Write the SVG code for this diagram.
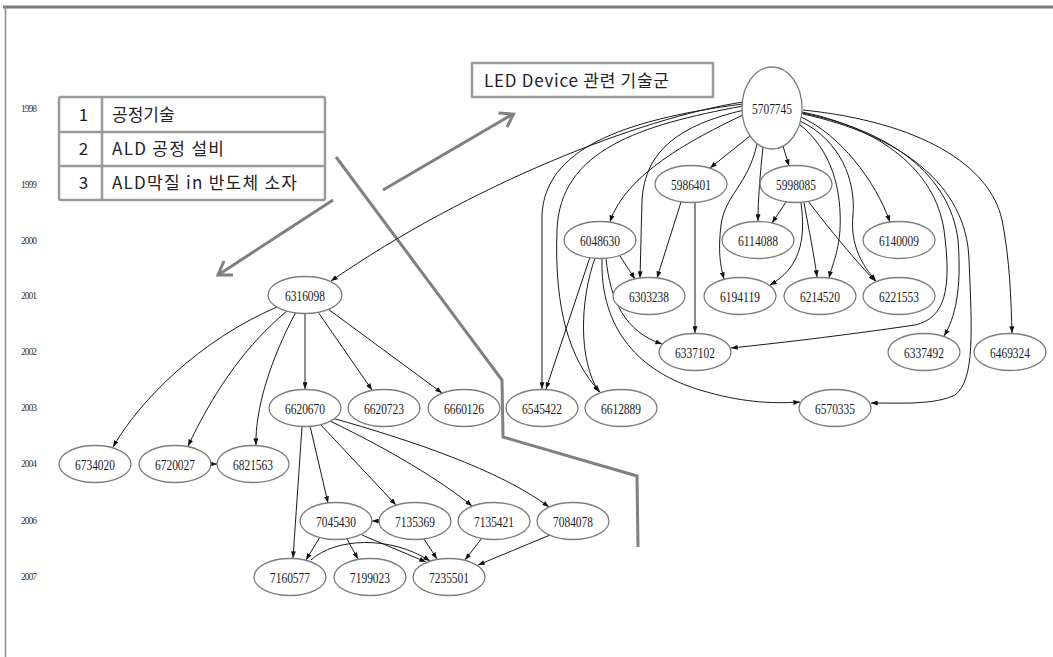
<svg xmlns="http://www.w3.org/2000/svg" width="1053" height="657" viewBox="0 0 1053 657">
<style>
.n ellipse{fill:#fff;stroke:#7d7d7d;stroke-width:1.3}
.n text{font-family:"Liberation Serif",serif;font-size:15.5px;fill:#1a1a1a;text-anchor:middle}
.yr{font-family:"Liberation Serif",serif;font-size:9.5px;fill:#333}
.e path{fill:none;stroke:#1a1a1a;stroke-width:1}
.g{fill:none;stroke:#808080;stroke-width:3}
.box{fill:#fff;stroke:#9a9a9a;stroke-width:2.5}
.k{font-family:"Noto Sans CJK KR","Noto Sans",sans-serif;font-size:17px;fill:#222}
</style>
<defs>
<marker id="a" viewBox="0 0 8 6" refX="8" refY="3" markerWidth="7" markerHeight="5" markerUnits="userSpaceOnUse" orient="auto">
<path d="M0,0 L8,3 L0,6 z" fill="#111"/>
</marker>
</defs>
<rect width="1053" height="657" fill="#fff"/>
<g id="frame">
<path d="M3 7 H1053" stroke="#7a7a7a" stroke-width="3" fill="none"/>
<path d="M5.5 7 V657" stroke="#8a8a8a" stroke-width="1.5" fill="none"/>
</g>
<g id="years">
<text class="yr" x="21" y="112" textLength="16">1998</text>
<text class="yr" x="21" y="188" textLength="16">1999</text>
<text class="yr" x="21" y="244" textLength="16">2000</text>
<text class="yr" x="21" y="299" textLength="16">2001</text>
<text class="yr" x="21" y="355" textLength="16">2002</text>
<text class="yr" x="21" y="411" textLength="16">2003</text>
<text class="yr" x="21" y="467" textLength="16">2004</text>
<text class="yr" x="21" y="524" textLength="16">2006</text>
<text class="yr" x="21" y="580" textLength="16">2007</text>
</g>
<g id="annotations">
<path class="g" d="M336 157 L502 380 L503 437 L637 476 L638 547"/>
<path class="g" d="M383 190 L513 114"/>
<path class="g" d="M498.5 113 L513.5 114 L507 127"/>
<path class="g" d="M333 200 L218 275"/>
<path class="g" d="M233 275 L218 275 L224 261"/>
</g>
<g id="legend">
<rect class="box" x="59" y="97" width="266" height="103" rx="2"/>
<path d="M59 132 H325 M59 166 H325 M102 97 V200" stroke="#9a9a9a" stroke-width="2.5" fill="none"/>
<text class="k" x="83.5" y="121" text-anchor="middle">1</text>
<text class="k" x="83.5" y="155" text-anchor="middle">2</text>
<text class="k" x="83.5" y="189" text-anchor="middle">3</text>
<text class="k" x="112" y="121">공정기술</text>
<text class="k" x="112" y="155" textLength="112">ALD 공정 설비</text>
<text class="k" x="112" y="189" textLength="185">ALD막질 in 반도체 소자</text>
</g>
<g id="led-label">
<rect class="box" x="472" y="63" width="241" height="34"/>
<text class="k" x="484" y="87" textLength="185">LED Device 관련 기술군</text>
</g>
<g id="connectors" class="e">
<path marker-end="url(#a)" d="M743 102 C640 118 470 185 331 281"/>
<path marker-end="url(#a)" d="M743 104 C620 120 545 150 542 215 L542 389"/>
<path marker-end="url(#a)" d="M743 106 C640 125 560 150 557 230 C554 310 570 360 600 392"/>
<path marker-end="url(#a)" d="M744 110 C680 125 645 150 642 200 L640 278"/>
<path marker-end="url(#a)" d="M745 114 C690 140 625 175 610 222"/>
<path marker-end="url(#a)" d="M750 136 L710 168"/>
<path marker-end="url(#a)" d="M763 147 C760 175 758 200 758 221"/>
<path marker-end="url(#a)" d="M757 144 C748 185 725 195 721 225 C718 250 720 265 724 279"/>
<path marker-end="url(#a)" d="M783 146 L789 166"/>
<path marker-end="url(#a)" d="M799 124 C832 150 842 190 840 230 C838 255 832 265 829 278"/>
<path marker-end="url(#a)" d="M800 121 C840 140 856 180 853 215 C850 245 862 265 876 281"/>
<path marker-end="url(#a)" d="M801 117 C840 135 875 180 890 222"/>
<path marker-end="url(#a)" d="M802 112 C880 128 935 170 944 230 C952 290 945 318 915 325 C840 336 770 344 731 348"/>
<path marker-end="url(#a)" d="M802 113 C890 130 950 175 958 240 C962 290 955 318 944 336"/>
<path marker-end="url(#a)" d="M803 114 C900 135 967 185 969 260 C972 330 975 380 955 395 C935 405 900 403 871 403"/>
<path marker-end="url(#a)" d="M803 110 C920 122 990 165 1002 220 C1010 260 1011 300 1012 333"/>
<path marker-end="url(#a)" d="M681 202 L657 278"/>
<path marker-end="url(#a)" d="M695 203 L695 333"/>
<path marker-end="url(#a)" d="M786 202 L772 223"/>
<path marker-end="url(#a)" d="M801 203 C806 240 800 268 770 285"/>
<path marker-end="url(#a)" d="M804 203 C809 230 814 255 817 277"/>
<path marker-end="url(#a)" d="M808 201 C830 230 855 260 875 281"/>
<path marker-end="url(#a)" d="M620 256 L635 279"/>
<path marker-end="url(#a)" d="M606 258 C610 300 625 332 662 344"/>
<path marker-end="url(#a)" d="M602 259 C600 330 640 372 700 390 C740 402 770 404 800 402"/>
<path marker-end="url(#a)" d="M590 257 L546 389"/>
<path marker-end="url(#a)" d="M595 258 C580 300 578 360 599 392"/>
<path marker-end="url(#a)" d="M277 307 C200 340 140 400 113 447"/>
<path marker-end="url(#a)" d="M287 311 C240 350 210 400 188 446"/>
<path marker-end="url(#a)" d="M296 312 C270 360 255 410 256 445"/>
<path marker-end="url(#a)" d="M305 313 L305 389"/>
<path marker-end="url(#a)" d="M318 312 L372 390"/>
<path marker-end="url(#a)" d="M328 309 L442 393"/>
<path marker-end="url(#a)" d="M209 464 L217 464"/>
<path marker-end="url(#a)" d="M302 427 L293 558"/>
<path marker-end="url(#a)" d="M310 426 L328 503"/>
<path marker-end="url(#a)" d="M320 424 L396 505"/>
<path marker-end="url(#a)" d="M330 421 C390 450 440 480 472 506"/>
<path marker-end="url(#a)" d="M332 418 C410 440 500 470 549 507"/>
<path marker-end="url(#a)" d="M381 521 L372 521"/>
<path marker-end="url(#a)" d="M320 537 L306 560"/>
<path marker-end="url(#a)" d="M347 539 L358 559"/>
<path marker-end="url(#a)" d="M362 535 L426 562"/>
<path marker-end="url(#a)" d="M311 560 C335 538 390 535 430 561"/>
<path marker-end="url(#a)" d="M424 539 L437 559"/>
<path marker-end="url(#a)" d="M482 538 L465 560"/>
<path marker-end="url(#a)" d="M550 535 L478 565"/>
</g>
<g id="n5707745" class="n"><ellipse cx="772" cy="108" rx="30" ry="41"/><text x="772" y="113.5" textLength="40" lengthAdjust="spacingAndGlyphs">5707745</text></g>
<g id="n5986401" class="n"><ellipse cx="691" cy="184" rx="36" ry="18.5"/><text x="691" y="189.5" textLength="40" lengthAdjust="spacingAndGlyphs">5986401</text></g>
<g id="n5998085" class="n"><ellipse cx="796" cy="184" rx="36" ry="18.5"/><text x="796" y="189.5" textLength="40" lengthAdjust="spacingAndGlyphs">5998085</text></g>
<g id="n6048630" class="n"><ellipse cx="600" cy="240" rx="36" ry="18.5"/><text x="600" y="245.5" textLength="40" lengthAdjust="spacingAndGlyphs">6048630</text></g>
<g id="n6114088" class="n"><ellipse cx="758" cy="240" rx="36" ry="18.5"/><text x="758" y="245.5" textLength="40" lengthAdjust="spacingAndGlyphs">6114088</text></g>
<g id="n6140009" class="n"><ellipse cx="899" cy="240" rx="36" ry="18.5"/><text x="899" y="245.5" textLength="40" lengthAdjust="spacingAndGlyphs">6140009</text></g>
<g id="n6316098" class="n"><ellipse cx="305" cy="295" rx="37" ry="18.5"/><text x="305" y="300.5" textLength="40" lengthAdjust="spacingAndGlyphs">6316098</text></g>
<g id="n6303238" class="n"><ellipse cx="649" cy="296" rx="36" ry="18.5"/><text x="649" y="301.5" textLength="40" lengthAdjust="spacingAndGlyphs">6303238</text></g>
<g id="n6194119" class="n"><ellipse cx="740" cy="296" rx="36" ry="18.5"/><text x="740" y="301.5" textLength="40" lengthAdjust="spacingAndGlyphs">6194119</text></g>
<g id="n6214520" class="n"><ellipse cx="820" cy="296" rx="36" ry="18.5"/><text x="820" y="301.5" textLength="40" lengthAdjust="spacingAndGlyphs">6214520</text></g>
<g id="n6221553" class="n"><ellipse cx="899" cy="296" rx="36" ry="18.5"/><text x="899" y="301.5" textLength="40" lengthAdjust="spacingAndGlyphs">6221553</text></g>
<g id="n6337102" class="n"><ellipse cx="695" cy="352" rx="36" ry="18.5"/><text x="695" y="357.5" textLength="40" lengthAdjust="spacingAndGlyphs">6337102</text></g>
<g id="n6337492" class="n"><ellipse cx="924" cy="352" rx="36" ry="18.5"/><text x="924" y="357.5" textLength="40" lengthAdjust="spacingAndGlyphs">6337492</text></g>
<g id="n6469324" class="n"><ellipse cx="1010" cy="352" rx="36" ry="18.5"/><text x="1010" y="357.5" textLength="40" lengthAdjust="spacingAndGlyphs">6469324</text></g>
<g id="n6620670" class="n"><ellipse cx="305" cy="408" rx="36" ry="18.5"/><text x="305" y="413.5" textLength="40" lengthAdjust="spacingAndGlyphs">6620670</text></g>
<g id="n6620723" class="n"><ellipse cx="384" cy="408" rx="36" ry="18.5"/><text x="384" y="413.5" textLength="40" lengthAdjust="spacingAndGlyphs">6620723</text></g>
<g id="n6660126" class="n"><ellipse cx="464" cy="408" rx="36" ry="18.5"/><text x="464" y="413.5" textLength="40" lengthAdjust="spacingAndGlyphs">6660126</text></g>
<g id="n6545422" class="n"><ellipse cx="542" cy="408" rx="36" ry="18.5"/><text x="542" y="413.5" textLength="40" lengthAdjust="spacingAndGlyphs">6545422</text></g>
<g id="n6612889" class="n"><ellipse cx="621" cy="408" rx="36" ry="18.5"/><text x="621" y="413.5" textLength="40" lengthAdjust="spacingAndGlyphs">6612889</text></g>
<g id="n6570335" class="n"><ellipse cx="835" cy="408" rx="36" ry="18.5"/><text x="835" y="413.5" textLength="40" lengthAdjust="spacingAndGlyphs">6570335</text></g>
<g id="n6734020" class="n"><ellipse cx="95" cy="464" rx="36" ry="18.5"/><text x="95" y="469.5" textLength="40" lengthAdjust="spacingAndGlyphs">6734020</text></g>
<g id="n6720027" class="n"><ellipse cx="175" cy="464" rx="36" ry="18.5"/><text x="175" y="469.5" textLength="40" lengthAdjust="spacingAndGlyphs">6720027</text></g>
<g id="n6821563" class="n"><ellipse cx="253" cy="464" rx="36" ry="18.5"/><text x="253" y="469.5" textLength="40" lengthAdjust="spacingAndGlyphs">6821563</text></g>
<g id="n7045430" class="n"><ellipse cx="336" cy="521" rx="36" ry="18.5"/><text x="336" y="526.5" textLength="40" lengthAdjust="spacingAndGlyphs">7045430</text></g>
<g id="n7135369" class="n"><ellipse cx="415" cy="521" rx="36" ry="18.5"/><text x="415" y="526.5" textLength="40" lengthAdjust="spacingAndGlyphs">7135369</text></g>
<g id="n7135421" class="n"><ellipse cx="494" cy="521" rx="36" ry="18.5"/><text x="494" y="526.5" textLength="40" lengthAdjust="spacingAndGlyphs">7135421</text></g>
<g id="n7084078" class="n"><ellipse cx="573" cy="521" rx="36" ry="18.5"/><text x="573" y="526.5" textLength="40" lengthAdjust="spacingAndGlyphs">7084078</text></g>
<g id="n7160577" class="n"><ellipse cx="290" cy="577" rx="36" ry="18.5"/><text x="290" y="582.5" textLength="40" lengthAdjust="spacingAndGlyphs">7160577</text></g>
<g id="n7199023" class="n"><ellipse cx="370" cy="577" rx="36" ry="18.5"/><text x="370" y="582.5" textLength="40" lengthAdjust="spacingAndGlyphs">7199023</text></g>
<g id="n7235501" class="n"><ellipse cx="449" cy="577" rx="36" ry="18.5"/><text x="449" y="582.5" textLength="40" lengthAdjust="spacingAndGlyphs">7235501</text></g>
</svg>
